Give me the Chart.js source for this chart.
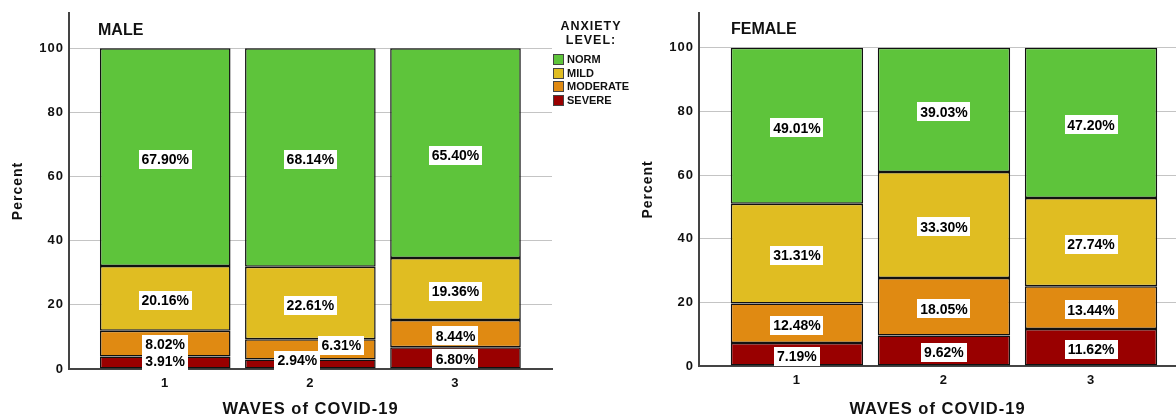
<!DOCTYPE html>
<html>
<head>
<meta charset="utf-8">
<script src="https://cdn.jsdelivr.net/npm/chart.js@4.4.1/dist/chart.umd.min.js"></script>
<style>
  html, body { margin: 0; padding: 0; background: #fff; overflow: hidden; width: 1176px; height: 419px; }
  #wrap { position: relative; width: 1176px; height: 419px; overflow: hidden; }
  canvas { position: absolute; top: 0; }
  #maleCanvas { left: 0; }
  #femaleCanvas { left: 630px; }
  #legend { position: absolute; left: 0; top: 0; font-family: "Liberation Sans", Arial, sans-serif; font-weight: bold; color: #111; }
  #legendTitle { position: absolute; left: 553px; top: 19px; width: 76px; text-align: center; font-size: 12.5px; line-height: 14px; letter-spacing: 1px; white-space: nowrap; }
  .item { position: absolute; left: 553px; height: 13px; white-space: nowrap; }
  .sw { position: absolute; left: 0; top: 0; width: 11px; height: 11px; box-sizing: border-box; border: 1px solid #444; }
  .tx { position: absolute; left: 14px; top: -1px; font-size: 11px; line-height: 13px; }
</style>
</head>
<body>
<div id="wrap">
  <canvas id="maleCanvas" width="560" height="419"></canvas>
  <canvas id="femaleCanvas" width="546" height="419"></canvas>
  <div id="legend">
    <div id="legendTitle">ANXIETY<br>LEVEL:</div>
  </div>
</div>
<script>
// ---- data ----
const waves = [1, 2, 3];
const yTicks = [0, 20, 40, 60, 80, 100];
const levels = ['SEVERE', 'MODERATE', 'MILD', 'NORM'];
const levelColors = ['#990000', '#E08A12', '#E0BD22', '#5EC43B'];

const maleSevere   = [3.91, 2.94, 6.80];
const maleModerate = [8.02, 6.31, 8.44];
const maleMild     = [20.16, 22.61, 19.36];
const maleNorm     = [67.90, 68.14, 65.40];

const femaleSevere   = [7.19, 9.62, 11.62];
const femaleModerate = [12.48, 18.05, 13.44];
const femaleMild     = [31.31, 33.30, 27.74];
const femaleNorm     = [49.01, 39.03, 47.20];

const FONT = '"Liberation Sans", Arial, sans-serif';

// ---- legend (HTML, built from arrays) ----
(function () {
  const lg = document.getElementById('legend');
  const order = levels.slice().reverse();
  order.forEach((lvl, i) => {
    const k = levels.indexOf(lvl);
    const it = document.createElement('div');
    it.className = 'item';
    it.style.top = (54 + i * 13.67) + 'px';
    const sw = document.createElement('div');
    sw.className = 'sw';
    sw.style.background = levelColors[k];
    const tx = document.createElement('div');
    tx.className = 'tx';
    tx.textContent = lvl;
    it.appendChild(sw); it.appendChild(tx);
    lg.appendChild(it);
  });
})();

// ---- plugins ----
const spacingPlugin = {
  id: 'spacing',
  beforeDraw(chart) { chart.ctx.letterSpacing = '1px'; },
  afterDraw(chart) { chart.ctx.letterSpacing = '0px'; }
};

const labelPlugin = {
  id: 'segLabels',
  afterDatasetsDraw(chart, args, opts) {
    const ctx = chart.ctx;
    ctx.save();
    ctx.letterSpacing = '0px';
    ctx.font = 'bold 14px ' + FONT;
    ctx.textAlign = 'center';
    ctx.textBaseline = 'middle';
    const shifts = opts.shifts || {};
    chart.data.datasets.forEach((ds, di) => {
      const meta = chart.getDatasetMeta(di);
      meta.data.forEach((el, i) => {
        const v = ds.data[i].y;
        const txt = v.toFixed(2) + '%';
        const sh = shifts[di + '-' + i] || [0, 0];
        const x = el.x + sh[0];
        const y = (el.y + el.base) / 2 + 2 + sh[1];
        const w = Math.round(ctx.measureText(txt).width + 6);
        const h = 19;
        ctx.fillStyle = '#fff';
        ctx.fillRect(Math.round(x - w / 2), Math.round(y - h / 2), w, h);
        ctx.fillStyle = '#000';
        ctx.fillText(txt, x, y + 1);
      });
    });
    ctx.restore();
  }
};

const panelTitlePlugin = {
  id: 'panelTitle',
  afterDraw(chart, args, opts) {
    const ctx = chart.ctx;
    ctx.save();
    ctx.letterSpacing = '0px';
    ctx.font = 'bold 16px ' + FONT;
    ctx.fillStyle = '#111';
    ctx.textAlign = 'left';
    ctx.textBaseline = 'middle';
    ctx.fillText(opts.text, opts.x, opts.y);
    ctx.restore();
  }
};

function buildChart(canvasId, cfg) {
  const datasets = levels.map((lvl, k) => ({
    label: lvl,
    data: waves.map((w, i) => ({ x: w, y: cfg.values[k][i] })),
    backgroundColor: levelColors[k],
    borderColor: '#111',
    borderWidth: 1.5,
    borderSkipped: false,
    barPercentage: 0.9,
    categoryPercentage: 1.0
  }));
  return new Chart(document.getElementById(canvasId), {
    type: 'bar',
    data: { datasets },
    options: {
      responsive: false,
      animation: false,
      devicePixelRatio: 1,
      layout: { padding: { top: cfg.top, right: cfg.right, left: 0, bottom: 0 } },
      plugins: {
        legend: { display: false },
        tooltip: { enabled: false },
        segLabels: { shifts: cfg.shifts },
        panelTitle: { text: cfg.title, x: cfg.titleX, y: cfg.titleY }
      },
      scales: {
        x: {
          type: 'linear',
          offset: false,
          stacked: true,
          min: cfg.xmin,
          max: cfg.xmax,
          afterBuildTicks: s => { s.ticks = waves.map(v => ({ value: v })); },
          afterFit: s => { s.height = cfg.xh; },
          grid: { display: false, drawTicks: false, offset: false },
          border: { display: true, color: '#444', width: 2 },
          ticks: { color: '#111', padding: 7, font: { family: FONT, size: 13, weight: 'bold' }, callback: v => String(v) },
          title: { display: true, text: 'WAVES of COVID-19', color: '#111', padding: { top: 0, bottom: 0 }, font: { family: FONT, size: 16.5, weight: 'bold' } }
        },
        y: {
          stacked: true,
          min: 0,
          max: 111,
          afterBuildTicks: s => { s.ticks = yTicks.map(v => ({ value: v })); },
          afterFit: s => { s.width = cfg.yw; },
          grid: { color: '#c4c4c4', lineWidth: 1, drawTicks: false },
          border: { display: true, color: '#444', width: 2 },
          ticks: { color: '#111', padding: 5, font: { family: FONT, size: 13, weight: 'bold' } },
          title: { display: true, text: 'Percent', color: '#111', padding: { top: 10, bottom: 0 }, font: { family: FONT, size: 14, weight: 'bold' } }
        }
      }
    },
    plugins: [spacingPlugin, labelPlugin, panelTitlePlugin]
  });
}

buildChart('maleCanvas', {
  values: [maleSevere, maleModerate, maleMild, maleNorm],
  title: 'MALE', titleX: 98, titleY: 31,
  top: 13, right: 8, xh: 50, yw: 69,
  xmin: 0.337, xmax: 3.665,
  shifts: { '0-0': [0, -3], '1-0': [0, -1], '0-1': [-13, -6], '1-1': [31, -6], '0-2': [0, -1] }
});

buildChart('femaleCanvas', {
  values: [femaleSevere, femaleModerate, femaleMild, femaleNorm],
  title: 'FEMALE', titleX: 101, titleY: 30,
  top: 12, right: 0, xh: 53, yw: 69,
  xmin: 0.334, xmax: 3.578,
  shifts: {}
});
</script>
</body>
</html>
